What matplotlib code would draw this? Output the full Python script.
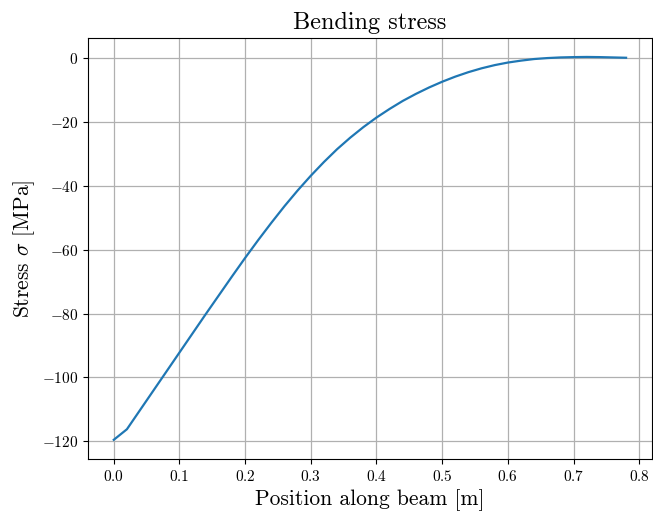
import numpy as np
import matplotlib
matplotlib.use("Agg")
import matplotlib.pyplot as plt

plt.rcParams['font.family'] = 'serif'
plt.rcParams['font.serif'] = ['cmr10']
plt.rcParams['mathtext.fontset'] = 'cm'
plt.rcParams['axes.formatter.use_mathtext'] = True

# position along beam [m] and bending stress [MPa]
position = np.arange(0, 0.79, 0.02)
stress = [-119.5, -116.2, -110.2, -104.2, -98.2, -92.2, -86.2, -80.2, -74.3, -68.4,
          -62.6, -57.0, -51.6, -46.4, -41.5, -36.9, -32.6, -28.6, -25.0, -21.7,
          -18.7, -16.0, -13.5, -11.3, -9.3, -7.5, -5.9, -4.5, -3.3, -2.3,
          -1.5, -0.9, -0.4, -0.1, 0.1, 0.2, 0.25, 0.2, 0.1, 0.0]

fig, ax = plt.subplots(figsize=(6.53, 5.18), dpi=100)
fig.subplots_adjust(left=0.135, right=0.998, top=0.927, bottom=0.114)
ax.plot(position, stress, color='#1f77b4', lw=1.6)
ax.set_title('Bending stress', fontsize=17.5)
ax.set_xlabel('Position along beam [m]', fontsize=15.5)
ax.set_ylabel(r'Stress $\sigma$ [MPa]', fontsize=15.5)
ax.grid(True, color='#b0b0b0', lw=0.9)
ax.tick_params(labelsize=11)

fig.savefig('out.png', dpi=100)
